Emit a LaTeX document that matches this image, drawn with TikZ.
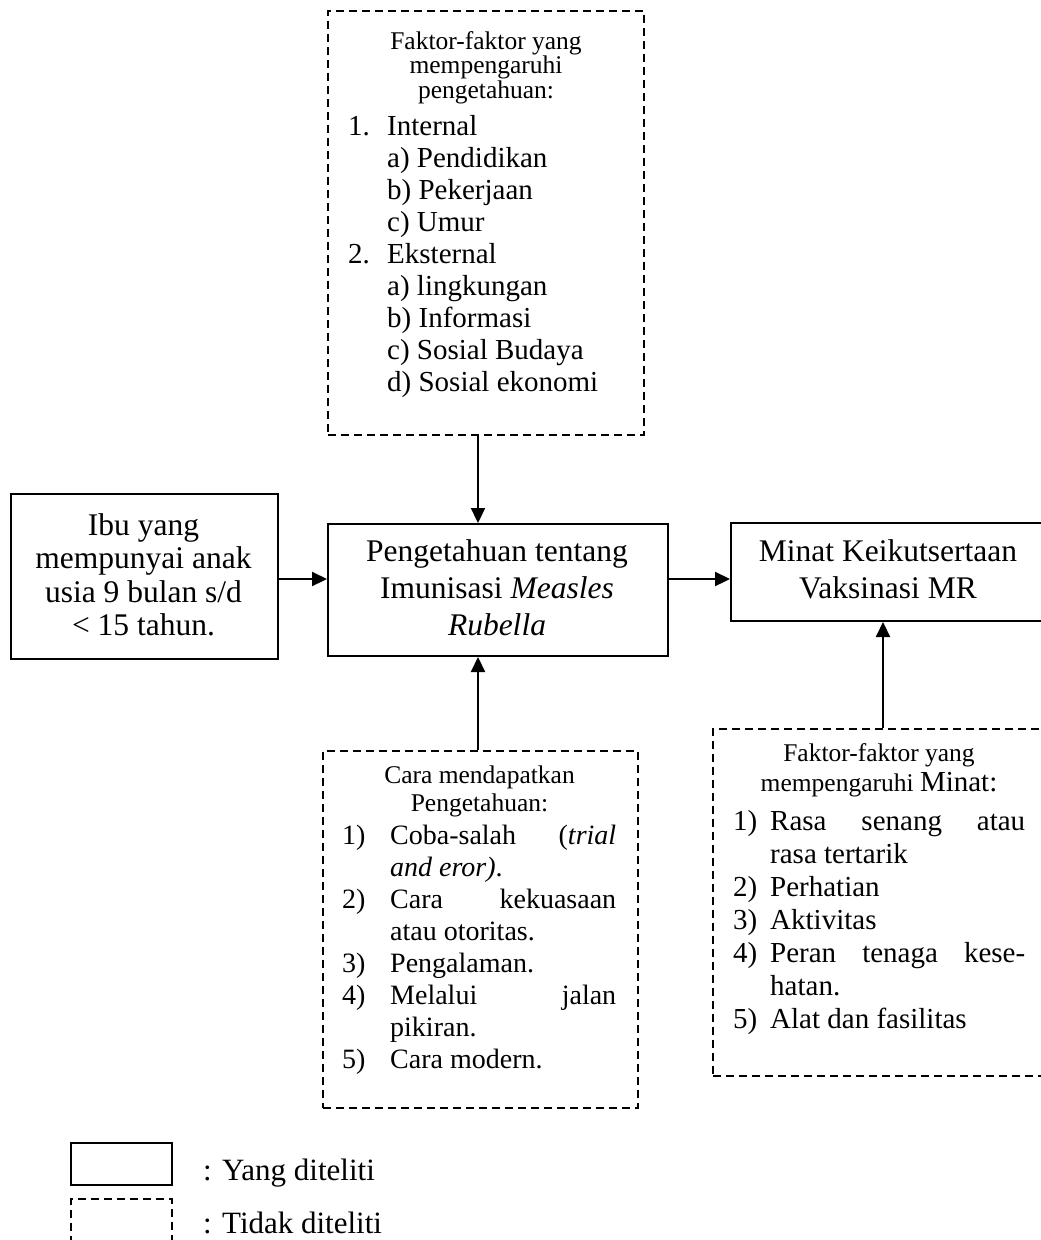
\documentclass[tikz,border=0pt]{standalone}
\usepackage{fontspec}
\setmainfont{Liberation Serif}
\usetikzlibrary{arrows.meta}
\newcommand\fmain{\fontsize{31.5}{33}\selectfont}
\newcommand\flist{\fontsize{29}{32}\selectfont}
\newcommand\fcara{\fontsize{28}{32}\selectfont}
\newcommand\fhead{\fontsize{25.5}{24.5}\selectfont}
\newcommand\fleg{\fontsize{31}{33}\selectfont}
\begin{document}
\begin{tikzpicture}[x=1pt,y=-1pt,
  solidbox/.style={draw, line width=2pt, inner sep=0pt, anchor=north west},
  dashbox/.style={draw, line width=1.8pt, dash pattern=on 8pt off 5pt, inner sep=0pt, anchor=north west},
  arr/.style={line width=2.2pt, -{Triangle[length=15pt,width=14pt]}},
  tl/.style={anchor=base west, inner sep=0pt},
  tc/.style={anchor=base, inner sep=0pt}]
\useasboundingbox (0,0) rectangle (1041,1240);
\clip (0,0) rectangle (1041,1240);
\fill[white] (0,0) rectangle (1041,1240);

% boxes
\node[dashbox, minimum width=316pt, minimum height=424pt] (faktor) at (327,10) {};
\node[solidbox, minimum width=267pt, minimum height=165pt] (ibu) at (10,493) {};
\node[solidbox, minimum width=340pt, minimum height=132pt] (peng) at (327,523) {};
\node[solidbox, minimum width=316pt, minimum height=98pt] (minat) at (730,522) {};
\node[dashbox, minimum width=315pt, minimum height=357pt] (cara) at (322,750) {};
\node[dashbox, minimum width=334pt, minimum height=347pt] (fminat) at (712,728) {};
\node[solidbox, minimum width=101pt, minimum height=42pt] (legs) at (70,1142) {};
\node[dashbox, minimum width=101pt, minimum height=60pt] (legd) at (70,1198) {};

% connectors
\coordinate (ax) at (478,0);
\coordinate (bx) at (883,0);
\coordinate (ay) at (0,579);
\draw[arr] (faktor.south -| ax) -- (peng.north -| ax);
\draw[arr] (cara.north -| ax) -- (peng.south -| ax);
\draw[arr] (ibu.east |- ay) -- (peng.west |- ay);
\draw[arr] (peng.east |- ay) -- (minat.west |- ay);
\draw[arr] (fminat.north -| bx) -- (minat.south -| bx);

% left box text
\node[tc, font=\fmain] (ibu1) at (143.5,535) {Ibu yang};
\node[tc, font=\fmain] (ibu2) at (143.5,568) {mempunyai anak};
\node[tc, font=\fmain] (ibu3) at (143.5,602) {usia 9 bulan s/d};
\node[tc, font=\fmain] (ibu4) at (143.5,635) {< 15 tahun.};

% centre box text
\node[tc, font=\fmain] (pg1) at (497,561) {Pengetahuan tentang};
\node[tc, font=\fmain] (pg2) at (497,598) {Imunisasi \textit{Measles}};
\node[tc, font=\fmain] (pg3) at (497,635) {\textit{Rubella}};

% minat box text
\node[tc, font=\fmain] (mn1) at (888,561) {Minat Keikutsertaan};
\node[tc, font=\fmain] (mn2) at (888,598) {Vaksinasi MR};

% top dashed box text
\node[tc, font=\fhead] (fk1) at (486,49) {Faktor-faktor yang};
\node[tc, font=\fhead] (fk2) at (486,73.5) {mempengaruhi};
\node[tc, font=\fhead] (fk3) at (486,98) {pengetahuan:};
\node[tl, font=\flist] (fkn1) at (348,135) {1.};
\node[tl, font=\flist] (fkt1) at (387,135) {Internal};
\node[tl, font=\flist] (fkt2) at (387,167.1) {a) Pendidikan};
\node[tl, font=\flist] (fkt3) at (387,199.2) {b) Pekerjaan};
\node[tl, font=\flist] (fkt4) at (387,231.3) {c) Umur};
\node[tl, font=\flist] (fkn2) at (348,263.4) {2.};
\node[tl, font=\flist] (fkt5) at (387,263.4) {Eksternal};
\node[tl, font=\flist] (fkt6) at (387,295.5) {a) lingkungan};
\node[tl, font=\flist] (fkt7) at (387,327.6) {b) Informasi};
\node[tl, font=\flist] (fkt8) at (387,359.7) {c) Sosial Budaya};
\node[tl, font=\flist] (fkt9) at (387,391.8) {d) Sosial ekonomi};

% bottom dashed box text
\node[tc, font=\fhead] (cr1) at (479.5,783.5) {Cara mendapatkan};
\node[tc, font=\fhead] (cr2) at (479.5,811.5) {Pengetahuan:};
\node[tl, font=\fcara] (crn1) at (342,844) {1)};
\node[tl, font=\fcara] (crt1) at (390,844) {\makebox[226pt][s]{Coba-salah (\textit{trial}}};
\node[tl, font=\fcara] (crt2) at (390,876) {\textit{and eror)}.};
\node[tl, font=\fcara] (crn2) at (342,908) {2)};
\node[tl, font=\fcara] (crt3) at (390,908) {\makebox[226pt][s]{Cara kekuasaan}};
\node[tl, font=\fcara] (crt4) at (390,940) {atau otoritas.};
\node[tl, font=\fcara] (crn3) at (342,972) {3)};
\node[tl, font=\fcara] (crt5) at (390,972) {Pengalaman.};
\node[tl, font=\fcara] (crn4) at (342,1004) {4)};
\node[tl, font=\fcara] (crt6) at (390,1004) {\makebox[226pt][s]{Melalui jalan}};
\node[tl, font=\fcara] (crt7) at (390,1036) {pikiran.};
\node[tl, font=\fcara] (crn5) at (342,1068) {5)};
\node[tl, font=\fcara] (crt8) at (390,1068) {Cara modern.};

% right dashed box text
\node[tc, font=\fhead] (fm1) at (879,761.5) {Faktor-faktor yang};
\node[tc, font=\fhead] (fm2) at (879,791.5) {mempengaruhi {\fontsize{29}{32}\selectfont Minat:}};
\node[tl, font=\flist] (fmn1) at (733,830) {1)};
\node[tl, font=\flist] (fmt1) at (770,830) {\makebox[255pt][s]{Rasa senang atau}};
\node[tl, font=\flist] (fmt2) at (770,863) {rasa tertarik};
\node[tl, font=\flist] (fmn2) at (733,896) {2)};
\node[tl, font=\flist] (fmt3) at (770,896) {Perhatian};
\node[tl, font=\flist] (fmn3) at (733,929) {3)};
\node[tl, font=\flist] (fmt4) at (770,929) {Aktivitas};
\node[tl, font=\flist] (fmn4) at (733,962) {4)};
\node[tl, font=\flist] (fmt5) at (770,962) {\makebox[255pt][s]{Peran tenaga kese-}};
\node[tl, font=\flist] (fmt6) at (770,995) {hatan.};
\node[tl, font=\flist] (fmn5) at (733,1028) {5)};
\node[tl, font=\flist] (fmt7) at (770,1028) {Alat dan fasilitas};

% legend text
\node[tl, font=\fleg] (lg1) at (203,1180) {: Yang diteliti};
\node[tl, font=\fleg] (lg2) at (203,1233) {: Tidak diteliti};
\end{tikzpicture}
\end{document}
